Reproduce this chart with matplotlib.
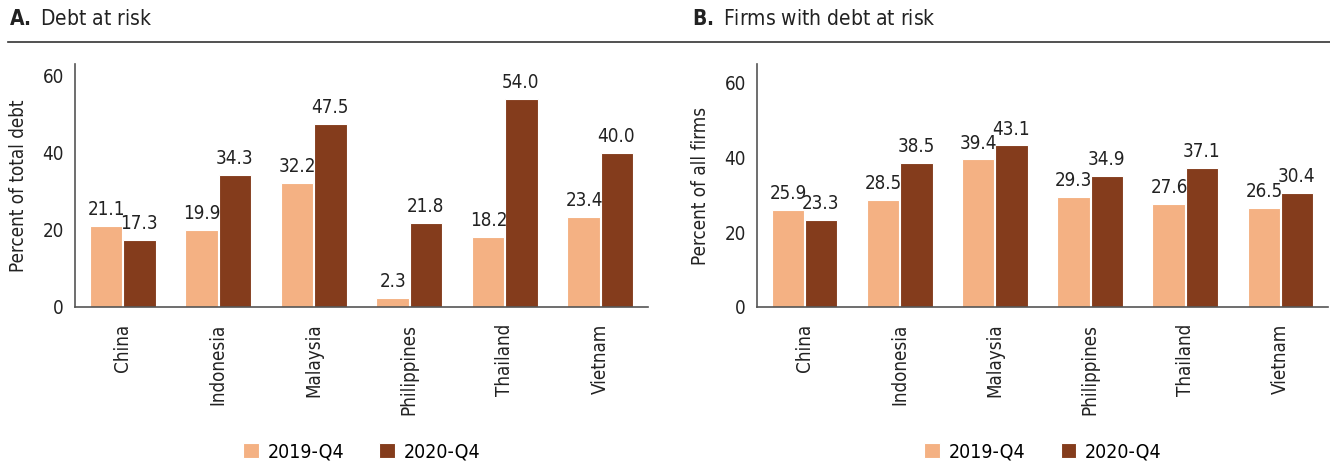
import matplotlib
matplotlib.use("Agg")
import matplotlib.pyplot as plt
import numpy as np
from matplotlib.lines import Line2D

plt.rcParams['font.family'] = ['DejaVu Sans']
plt.rcParams['font.stretch'] = 'condensed'

countries = ["China", "Indonesia", "Malaysia", "Philippines", "Thailand", "Vietnam"]
debt_2019 = [21.1, 19.9, 32.2, 2.3, 18.2, 23.4]
debt_2020 = [17.3, 34.3, 47.5, 21.8, 54.0, 40.0]
firms_2019 = [25.9, 28.5, 39.4, 29.3, 27.6, 26.5]
firms_2020 = [23.3, 38.5, 43.1, 34.9, 37.1, 30.4]
series_names = ["2019-Q4", "2020-Q4"]
yticks = [0, 20, 40, 60]

c_light = "#F4B183"
c_dark = "#843C1C"
txt = "#222222"

fig = plt.figure(figsize=(13.3, 4.76), dpi=100)
W, H = 1330, 476

def px(x0, y0, x1, y1):
    return [x0 / W, 1 - y1 / H, (x1 - x0) / W, (y1 - y0) / H]

FS = 13.5

def panel(rect, v1, v2, ylabel, ytop):
    ax = fig.add_axes(rect)
    x = np.arange(len(countries))
    w = 0.34
    ax.bar(x - w / 2 - 0.005, v1, w, color=c_light, edgecolor="white", linewidth=0.8, label=series_names[0])
    ax.bar(x + w / 2 + 0.005, v2, w, color=c_dark, edgecolor="white", linewidth=0.8, label=series_names[1])
    for xi, a, b in zip(x, v1, v2):
        ax.text(xi - w / 2, a + 1.8, f"{a:.1f}", ha="center", va="bottom", fontsize=FS, color=txt)
        ax.text(xi + w / 2, b + 1.8, f"{b:.1f}", ha="center", va="bottom", fontsize=FS, color=txt)
    ax.set_xlim(-0.5, len(countries) - 0.5)
    ax.set_ylim(0, ytop)
    ax.set_yticks(yticks)
    ax.set_yticklabels([str(t) for t in yticks], fontsize=FS, color=txt)
    ax.set_xticks(x)
    ax.set_xticklabels(countries, rotation=90, fontsize=FS, color=txt)
    ax.tick_params(length=0, pad=8)
    ax.tick_params(axis="x", pad=12)
    for s in ["top", "right"]:
        ax.spines[s].set_visible(False)
    for s in ["left", "bottom"]:
        ax.spines[s].set_color("#555555")
        ax.spines[s].set_linewidth(1.2)
    ax.set_ylabel(ylabel, fontsize=FS, color=txt, labelpad=10)
    return ax

ax1 = panel(px(75, 64, 648, 307), debt_2019, debt_2020, "Percent of total debt", 63)
ax2 = panel(px(757, 64, 1328, 307), firms_2019, firms_2020, "Percent of all firms", 64.8)

# titles
fig.text(9 / W, 1 - 19 / H, r"$\bf{A.}$ Debt at risk", fontsize=15, color=txt, va="center", ha="left")
fig.text(692 / W, 1 - 19 / H, r"$\bf{B.}$ Firms with debt at risk", fontsize=15, color=txt, va="center", ha="left")
fig.add_artist(Line2D([8 / W, 1.0], [1 - 42 / H, 1 - 42 / H], color="#333333", linewidth=1.2, transform=fig.transFigure))

for ax, cx in [(ax1, 362 / W), (ax2, 1043 / W)]:
    h, l = ax.get_legend_handles_labels()
    fig.legend(h, l, loc="center", bbox_to_anchor=(cx, 1 - 452 / H), ncol=2, frameon=False,
               fontsize=14, handlelength=0.82, handleheight=0.82, columnspacing=1.8, handletextpad=0.45)

fig.savefig("out.png", dpi=100)
